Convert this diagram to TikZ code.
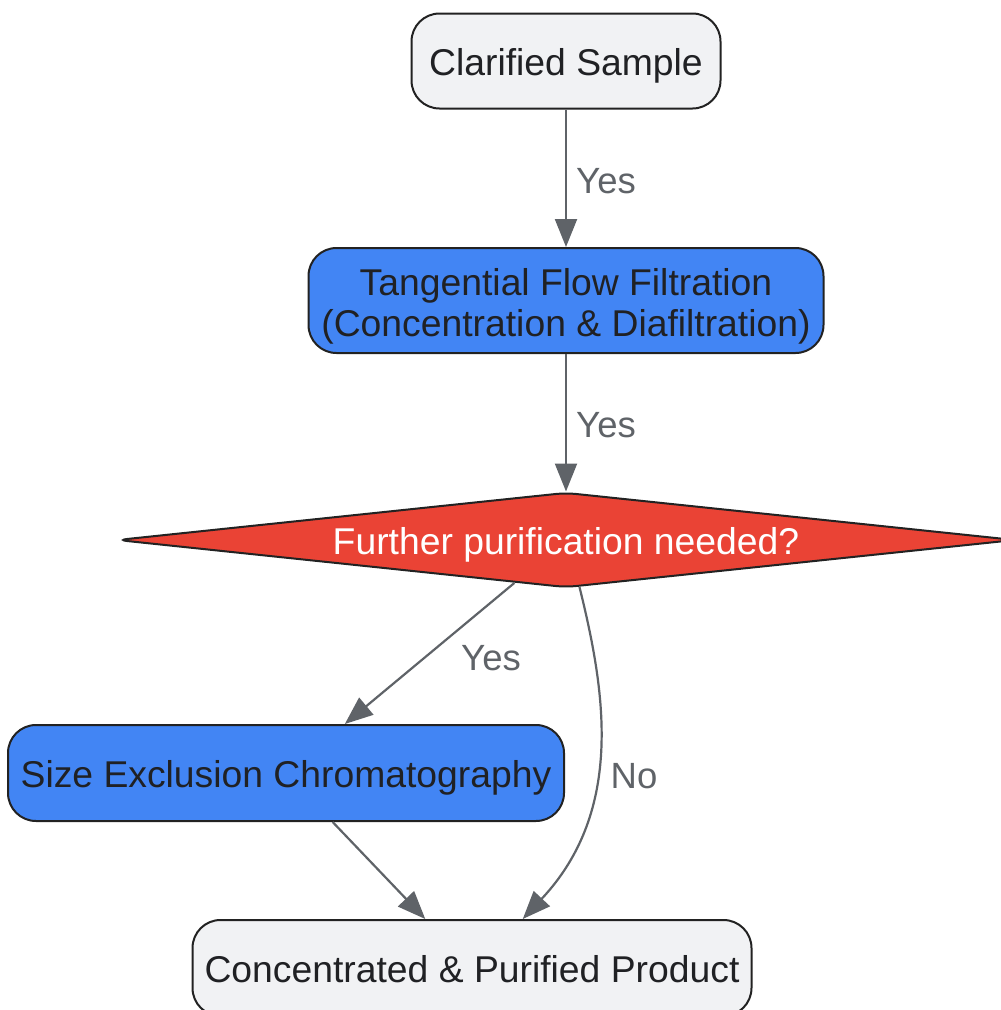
\documentclass[tikz,border=0pt]{standalone}
\usepackage{fontspec}
\setmainfont{Liberation Sans}
\usetikzlibrary{shapes.geometric,arrows.meta}
\definecolor{boxgrey}{HTML}{F1F2F4}
\definecolor{gblue}{HTML}{4285F4}
\definecolor{gred}{HTML}{EA4335}
\definecolor{edgec}{HTML}{5F6368}
\definecolor{txt}{HTML}{202124}
\definecolor{bord}{HTML}{222222}
\begin{document}
\begin{tikzpicture}[x=1pt,y=-1pt,
  nodefont/.style={font=\fontsize{37.3}{41}\selectfont},
  base/.style={nodefont, draw=bord, line width=2pt, rounded corners=28pt, inner sep=0pt, text=txt, align=center,
    text height=29pt, text depth=0pt},
  greybox/.style={base, fill=boxgrey},
  bluebox/.style={base, fill=gblue},
  decision/.style={nodefont, diamond, draw=bord, line width=2pt, fill=gred, text=white, inner sep=0pt,
    text height=29pt, text depth=0pt,
    minimum width=898pt, minimum height=95pt, shape aspect=9.45, rounded corners=10pt},
  conn/.style={draw=edgec, line width=2.2pt, -{Triangle[length=28pt,width=22pt]}},
  lbl/.style={font=\fontsize{36.5}{41}\selectfont, text=edgec}
]
\useasboundingbox (0,0) rectangle (1001,1010);
\clip (0,0) rectangle (1001,1010);

\node[greybox, minimum width=309pt, minimum height=95pt] (cs) at (566,61) {Clarified Sample};
\node[bluebox, minimum width=515pt, minimum height=105pt, text height=71pt, text depth=0pt] (tff) at (566,300.5)
  {Tangential Flow Filtration\\(Concentration \& Diafiltration)};
\node[decision] (dia) at (566,540) {Further purification needed?};
\node[bluebox, minimum width=556pt, minimum height=96pt] (sec) at (286,773) {Size Exclusion Chromatography};
\node[greybox, minimum width=559pt, minimum height=96pt] (fin) at (472,968) {Concentrated \& Purified Product};

\draw[conn] (cs) -- (tff);
\draw[conn] (tff) -- (dia);
\draw[conn] (dia) -- (sec);
\draw[conn] (sec) -- (fin);
\draw[conn] (dia.-74) .. controls (605,690) and (625,810) .. (fin.44);

\node[lbl] (l1) at (606,181) {Yes};
\node[lbl] (l2) at (606,425) {Yes};
\node[lbl] (l3) at (491,658) {Yes};
\node[lbl] (l4) at (634,776) {No};
\end{tikzpicture}
\end{document}
